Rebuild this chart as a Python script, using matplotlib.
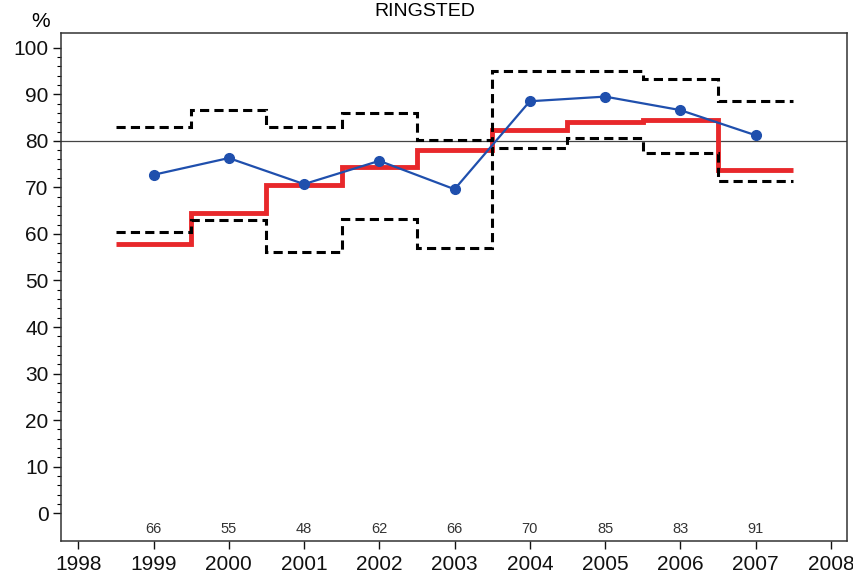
import matplotlib.pyplot as plt
import numpy as np

# data
years = [1999, 2000, 2001, 2002, 2003, 2004, 2005, 2006, 2007]
observed = [72.7, 76.3, 70.7, 75.7, 69.6, 88.5, 89.5, 86.6, 81.2]
expected = [57.8, 64.4, 70.5, 74.3, 78.0, 82.4, 84.0, 84.4, 73.8]
upper = [83.0, 86.7, 83.0, 86.0, 80.2, 95.1, 95.1, 93.2, 88.5]
lower = [60.4, 62.9, 56.1, 63.1, 56.9, 78.5, 80.5, 77.4, 71.4]
counts = [66, 55, 48, 62, 66, 70, 85, 83, 91]
target = 80

plt.rcParams['font.family'] = ['Liberation Sans', 'DejaVu Sans']

fig = plt.figure(figsize=(8.54, 5.77), dpi=100)
ax = fig.add_axes([0.0714, 0.0629, 0.92, 0.8794])

edges = np.append(np.array(years) - 0.5, years[-1] + 0.5)

ax.axhline(target, color="#444444", lw=0.9, zorder=1)
ax.stairs(expected, edges, baseline=None, color="#e8282b", lw=3.5, zorder=2)
ax.stairs(upper, edges, baseline=None, color="black", lw=2.2, linestyle=(0, (3, 1.7)), zorder=3)
ax.stairs(lower, edges, baseline=None, color="black", lw=2.2, linestyle=(0, (3, 1.7)), zorder=3)
ax.plot(years, observed, color="#1f4fad", lw=1.6, marker="o", markersize=7, zorder=4)

for x, n in zip(years, counts):
    ax.text(x, -3.4, str(n), ha="center", va="center", fontsize=10.5, color="#333333")

ax.set_xlim(1997.77, 2008.21)
ax.set_ylim(-5.9, 103.1)
ax.set_xticks(range(1998, 2009))
ax.set_yticks(range(0, 101, 10))
ax.set_yticks(range(0, 101, 2), minor=True)
ax.tick_params(axis="both", which="major", direction="out", length=6, width=1,
               labelsize=15, colors="#111111", pad=3)
ax.tick_params(axis="y", which="minor", direction="out", length=3, width=0.8)
ax.tick_params(axis="x", which="major", pad=4)
for s in ax.spines.values():
    s.set_color("#333333")
    s.set_linewidth(1.1)

fig.text(0.047, 0.962, "%", ha="center", va="center", fontsize=15)
fig.text(0.498, 0.972, "RINGSTED", ha="center", va="baseline", fontsize=14)

fig.savefig("out.png", dpi=100)
